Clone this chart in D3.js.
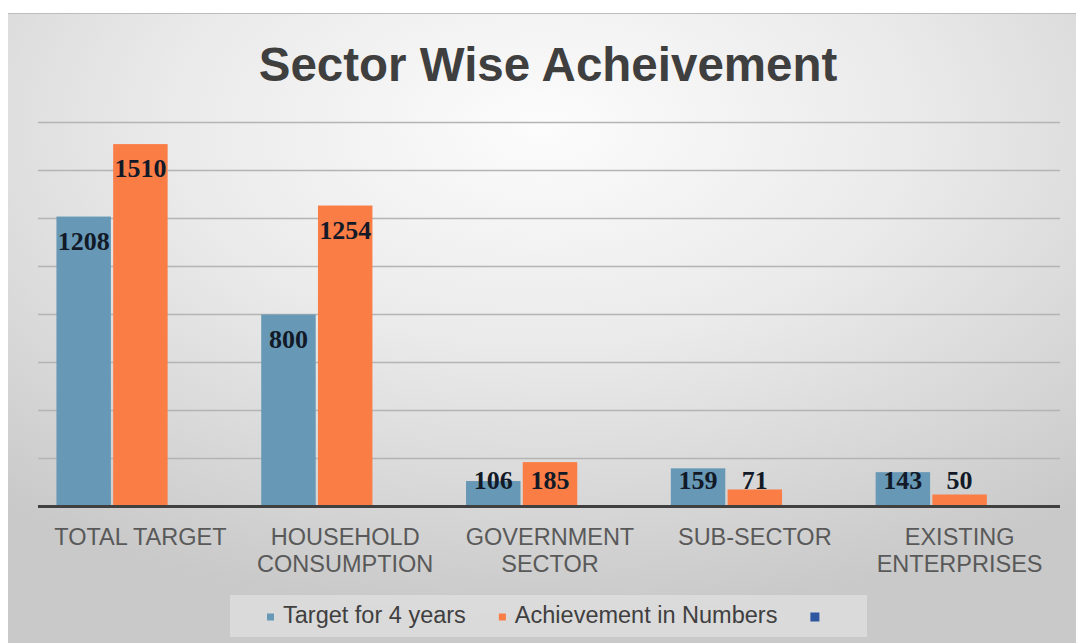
<!DOCTYPE html>
<html>
<head>
<meta charset="utf-8">
<script src="https://cdn.jsdelivr.net/npm/d3@7"></script>
<style>
  html, body { margin: 0; padding: 0; background: #ffffff; }
  svg { display: block; }
</style>
</head>
<body>
<svg id="chart" width="1076" height="643"></svg>
<script>
// Sector-wise target vs achievement
const categories = [
  ["TOTAL TARGET"],
  ["HOUSEHOLD", "CONSUMPTION"],
  ["GOVERNMENT", "SECTOR"],
  ["SUB-SECTOR"],
  ["EXISTING", "ENTERPRISES"]
];
const seriesNames = ["Target for 4 years", "Achievement in Numbers", ""];
const targetValues = [1208, 800, 106, 159, 143];
const achievementValues = [1510, 1254, 185, 71, 50];
const thirdValues = [null, null, null, null, null];
const yTicks = [0, 200, 400, 600, 800, 1000, 1200, 1400, 1600];

const colors = ["#6798b5", "#fa7d45", "#2f56a0"];

const svg = d3.select("#chart");
const W = 1076, H = 643;

// background panel with soft radial shading
const defs = svg.append("defs");
const grad = defs.append("radialGradient")
  .attr("id", "bg")
  .attr("cx", "50%").attr("cy", "18%").attr("r", "78%")
  .attr("gradientUnits", "objectBoundingBox");
grad.append("stop").attr("offset", "0%").attr("stop-color", "#fcfcfc");
grad.append("stop").attr("offset", "45%").attr("stop-color", "#eaeaea");
grad.append("stop").attr("offset", "100%").attr("stop-color", "#c9c9c9");

svg.append("rect")
  .attr("x", 8).attr("y", 13)
  .attr("width", W - 8).attr("height", H - 13)
  .attr("fill", "url(#bg)");
svg.append("line")
  .attr("x1", 8).attr("x2", W).attr("y1", 13.5).attr("y2", 13.5)
  .attr("stroke", "#bdbdbd").attr("stroke-width", 1);

// title
svg.append("text")
  .attr("x", 548).attr("y", 81)
  .attr("text-anchor", "middle")
  .attr("font-family", "'Liberation Sans', Arial, sans-serif")
  .attr("font-weight", "bold")
  .attr("font-size", 47.5)
  .attr("fill", "#3f3f3f")
  .text("Sector Wise Acheivement");

// scales
const x0 = d3.scaleBand()
  .domain(d3.range(categories.length))
  .range([38, 1062])
  .paddingInner(0.18)
  .paddingOuter(0.09);

const x1 = d3.scaleBand()
  .domain(d3.range(seriesNames.length))
  .range([0, x0.bandwidth()])
  .paddingInner(0.04);

const y = d3.scaleLinear()
  .domain([0, d3.max(yTicks)])
  .range([506.5, 122.5]);

// gridlines
svg.append("g")
  .selectAll("line")
  .data(yTicks.filter(t => t > 0))
  .join("line")
  .attr("x1", 38).attr("x2", 1060)
  .attr("y1", d => y(d)).attr("y2", d => y(d))
  .attr("stroke", "#b4b4b4")
  .attr("stroke-width", 1.4);

// bars
const seriesValues = [targetValues, achievementValues, thirdValues];
const barData = [];
seriesValues.forEach((vals, s) => {
  vals.forEach((v, i) => {
    if (v != null) barData.push({ s, i, v });
  });
});

svg.append("g")
  .selectAll("rect")
  .data(barData)
  .join("rect")
  .attr("x", d => x0(d.i) + x1(d.s))
  .attr("width", x1.bandwidth())
  .attr("y", d => y(d.v))
  .attr("height", d => y(0) - y(d.v))
  .attr("fill", d => colors[d.s]);

// baseline axis
svg.append("line")
  .attr("x1", 38).attr("x2", 1060)
  .attr("y1", y(0)).attr("y2", y(0))
  .attr("stroke", "#404040")
  .attr("stroke-width", 3);

// value labels, inside the bar end (kept above the axis for short bars)
svg.append("g")
  .selectAll("text")
  .data(barData)
  .join("text")
  .attr("x", d => x0(d.i) + x1(d.s) + x1.bandwidth() / 2)
  .attr("y", d => Math.min(y(d.v) + 33, y(0) - 17.5))
  .attr("text-anchor", "middle")
  .attr("font-family", "'Liberation Serif', 'Times New Roman', serif")
  .attr("font-weight", "bold")
  .attr("font-size", 26)
  .attr("fill", "#121a28")
  .text(d => d.v);

// category labels
const catG = svg.append("g")
  .selectAll("text")
  .data(categories)
  .join("text")
  .attr("x", (d, i) => x0(i) + x0.bandwidth() / 2)
  .attr("y", 545)
  .attr("text-anchor", "middle")
  .attr("font-family", "'Liberation Sans', Arial, sans-serif")
  .attr("font-size", 23.5)
  .attr("fill", "#595959");
catG.selectAll("tspan")
  .data(d => d)
  .join("tspan")
  .attr("x", function() { return this.parentNode.getAttribute("x"); })
  .attr("dy", (d, j) => j === 0 ? 0 : 27)
  .text(d => d);

// legend
svg.append("rect")
  .attr("x", 230).attr("y", 595)
  .attr("width", 637).attr("height", 42)
  .attr("fill", "#ffffff").attr("fill-opacity", 0.32);

const legend = svg.append("g");
let lx = 267;
seriesNames.forEach((name, s) => {
  const sq = s === 2 ? 9 : 7;
  legend.append("rect")
    .attr("x", lx).attr("y", 617 - sq / 2)
    .attr("width", sq).attr("height", sq)
    .attr("fill", colors[s]);
  lx += sq + 9;
  if (name) {
    const t = legend.append("text")
      .attr("x", lx).attr("y", 622.5)
      .attr("font-family", "'Liberation Sans', Arial, sans-serif")
      .attr("font-size", 23.5)
      .attr("fill", "#404040")
      .text(name);
    lx += t.node().getComputedTextLength() + 33;
  }
});
</script>
</body>
</html>
